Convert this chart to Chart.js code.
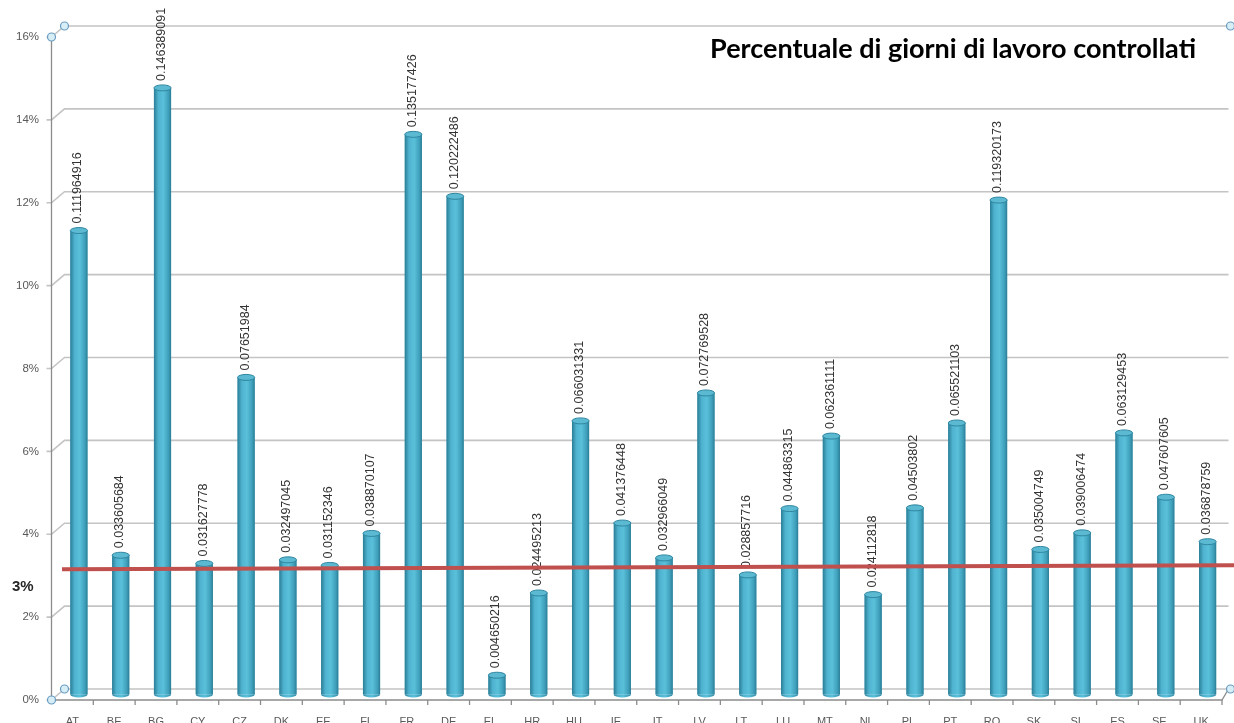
<!DOCTYPE html>
<html>
<head>
<meta charset="utf-8">
<title>Percentuale di giorni di lavoro controllati</title>
<script src="https://cdn.jsdelivr.net/npm/chart.js@4.4.1/dist/chart.umd.min.js"></script>
<style>
  html, body { margin: 0; padding: 0; background: #fff; }
  #wrap { width: 1234px; height: 723px; }
</style>
</head>
<body>
<div id="wrap"><canvas id="chart" width="1234" height="723"></canvas></div>
<script>
const countries = ['AT', 'BE', 'BG', 'CY', 'CZ', 'DK', 'EE', 'FI', 'FR', 'DE', 'EL', 'HR', 'HU', 'IE',
    'IT', 'LV', 'LT', 'LU', 'MT', 'NL', 'PL', 'PT', 'RO', 'SK', 'SI', 'ES', 'SE', 'UK'];
const checkedShare = [0.111964916, 0.033605684, 0.146389091, 0.031627778, 0.07651984, 0.032497045,
    0.031152346, 0.038870107, 0.135177426, 0.120222486, 0.004650216, 0.024495213, 0.066031331,
    0.041376448, 0.032966049, 0.072769528, 0.028857716, 0.044863315, 0.062361111, 0.024112818,
    0.04503802, 0.065521103, 0.119320173, 0.035004749, 0.039006474, 0.063129453, 0.047607605,
    0.036878759];
const yTicks = [0, 0.02, 0.04, 0.06, 0.08, 0.10, 0.12, 0.14, 0.16];
const threshold = 0.03;
const thresholdLabel = '3%';
const chartTitle = 'Percentuale di giorni di lavoro controllati';

// fake 3d depth: front is shifted left/down, back wall right/up
const dx = 6.5, dy = 5.5;

const ctx = document.getElementById('chart');

const depthPlugin = {
    id: 'depth',
    beforeDatasetsDraw(chart) {
        const c = chart.ctx, area = chart.chartArea, y = chart.scales.y;
        c.save();
        // back wall gridlines + diagonals to the front axis
        c.strokeStyle = '#c4c4c4';
        c.lineWidth = 1.6;
        yTicks.forEach(v => {
            const py = y.getPixelForValue(v);
            c.beginPath();
            c.moveTo(area.left - dx - 5, py + dy);
            c.lineTo(area.left - dx, py + dy);
            c.lineTo(area.left + dx, py - dy);
            c.lineTo(area.right, py - dy);
            c.stroke();
        });
        // front axis and floor edge
        c.strokeStyle = '#8c8c8c';
        c.lineWidth = 1.3;
        const base = y.getPixelForValue(0);
        c.beginPath();
        c.moveTo(area.left - dx, y.getPixelForValue(yTicks[yTicks.length - 1]) + dy);
        c.lineTo(area.left - dx, base + dy);
        c.lineTo(area.right - dx, base + dy);
        c.lineTo(area.right, base - dy);
        c.stroke();
        const step = (area.right - area.left) / countries.length;
        for (let i = 1; i <= countries.length; i++) {
            const px = area.left - dx + i * step;
            c.beginPath();
            c.moveTo(px, base + dy);
            c.lineTo(px, base + dy + 5);
            c.stroke();
        }
        c.restore();
    },
    afterDatasetsDraw(chart) {
        const c = chart.ctx, area = chart.chartArea, y = chart.scales.y;
        const meta = chart.getDatasetMeta(0);
        c.save();
        // cylinders
        meta.data.forEach(bar => {
            const w = bar.width, l = bar.x - w / 2, top = bar.y, bot = bar.base;
            const g = c.createLinearGradient(l, 0, l + w, 0);
            g.addColorStop(0, '#2a7d96');
            g.addColorStop(0.25, '#4fb3cf');
            g.addColorStop(0.55, '#5ac0da');
            g.addColorStop(0.85, '#3f9fbb');
            g.addColorStop(1, '#2b7d95');
            c.fillStyle = g;
            c.fillRect(l, top, w, bot - top);
            c.beginPath();
            c.ellipse(bar.x, bot, w / 2, 3, 0, 0, Math.PI);
            c.fill();
            c.beginPath();
            c.ellipse(bar.x, top, w / 2, 3, 0, 0, Math.PI * 2);
            c.fillStyle = '#5bb9d2';
            c.fill();
            c.strokeStyle = '#2f86a0';
            c.lineWidth = 1;
            c.stroke();
        });
        // value labels, rotated
        c.fillStyle = '#333';
        c.font = '12.5px "Liberation Sans", Arial, sans-serif';
        c.textAlign = 'left';
        c.textBaseline = 'middle';
        meta.data.forEach((bar, i) => {
            c.save();
            c.translate(bar.x - 1, bar.y - 7);
            c.rotate(-Math.PI / 2);
            c.fillText(String(checkedShare[i]), 0, 0);
            c.restore();
        });
        // 3% reference line
        const ty = y.getPixelForValue(threshold);
        c.strokeStyle = '#c0504d';
        c.lineWidth = 4;
        c.beginPath();
        c.moveTo(area.left + 4, ty - 1);
        c.lineTo(chart.width, ty - 5);
        c.stroke();
        c.fillStyle = '#262626';
        c.font = 'bold 15px "Liberation Sans", Arial, sans-serif';
        c.textAlign = 'left';
        c.fillText(thresholdLabel, 12, ty + 17);
        // title
        c.fillStyle = '#000';
        c.font = 'bold 27px Lato, "Open Sans", sans-serif';
        c.textAlign = 'right';
        c.fillText(chartTitle, 1196, 49);
        // selection handles
        const handles = [
            [area.left - dx, y.getPixelForValue(0.16) + dy], [area.left + dx, y.getPixelForValue(0.16) - dy],
            [area.left - dx, y.getPixelForValue(0) + dy], [area.left + dx, y.getPixelForValue(0) - dy],
            [area.right + 2, y.getPixelForValue(0.16) - dy], [area.right + 2, y.getPixelForValue(0) - dy]
        ];
        c.lineWidth = 1.2;
        handles.forEach(([hx, hy]) => {
            c.beginPath();
            c.arc(hx, hy, 4, 0, Math.PI * 2);
            c.fillStyle = '#d7eef6';
            c.fill();
            c.strokeStyle = '#6a9cc0';
            c.stroke();
        });
        c.restore();
    }
};

new Chart(ctx, {
    type: 'bar',
    data: {
        labels: countries,
        datasets: [{
            label: chartTitle,
            data: checkedShare,
            backgroundColor: '#4bacc6',
            borderWidth: 0,
            categoryPercentage: 1,
            barPercentage: 0.41
        }]
    },
    options: {
        responsive: false,
        animation: false,
        layout: {
            padding: { top: 31.5, right: 5.5, left: 0, bottom: 0 }
        },
        plugins: {
            legend: { display: false },
            tooltip: { enabled: false }
        },
        scales: {
            x: {
                grid: { display: false },
                border: { display: false },
                ticks: {
                    color: '#595959',
                    font: { size: 11, family: '"Liberation Sans", Arial, sans-serif' },
                    padding: 13,
                    labelOffset: -dx,
                    maxRotation: 0,
                    autoSkip: false
                },
                afterFit(scale) { scale.height = 28.5; }
            },
            y: {
                min: 0,
                max: 0.16,
                grid: { display: false },
                border: { display: false },
                ticks: {
                    stepSize: 0.02,
                    color: '#595959',
                    font: { size: 11.5, family: '"Liberation Sans", Arial, sans-serif' },
                    padding: 11,
                    labelOffset: dy,
                    callback: v => Math.round(v * 100) + '%'
                },
                afterFit(scale) { scale.width = 58; }
            }
        }
    },
    plugins: [depthPlugin]
});
</script>
</body>
</html>
